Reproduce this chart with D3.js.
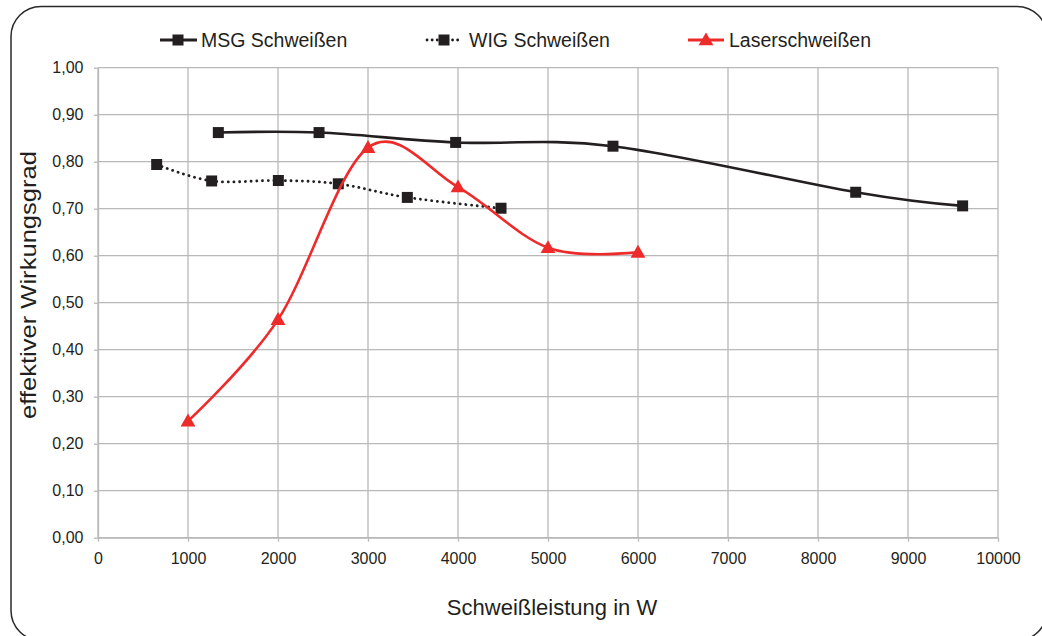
<!DOCTYPE html>
<html>
<head>
<meta charset="utf-8">
<script src="https://cdn.jsdelivr.net/npm/d3@7"></script>
<style>
  html, body { margin: 0; padding: 0; background: #fff; }
  svg { display: block; font-family: "Liberation Sans", Arial, sans-serif; }
</style>
</head>
<body>
<svg id="chart" width="1042" height="636"></svg>
<script>
// ---- data ----
const seriesNames = ["MSG Schweißen", "WIG Schweißen", "Laserschweißen"];
const msgX = [1337, 2456, 3974, 5722, 8419, 9607];
const msgY = [0.862, 0.862, 0.841, 0.833, 0.735, 0.706];
const wigX = [652, 1263, 2004, 2670, 3437, 4478];
const wigY = [0.794, 0.759, 0.760, 0.753, 0.724, 0.701];
const laserX = [1000, 2000, 3000, 4000, 5000, 6000];
const laserY = [0.248, 0.464, 0.830, 0.746, 0.617, 0.607];
const xTicks = [0, 1000, 2000, 3000, 4000, 5000, 6000, 7000, 8000, 9000, 10000];
const yTicks = [0, 0.1, 0.2, 0.3, 0.4, 0.5, 0.6, 0.7, 0.8, 0.9, 1.0];
const xTitle = "Schweißleistung in W";
const yTitle = "effektiver Wirkungsgrad";

// ---- layout ----
const svg = d3.select("#chart");
const pL = 98, pR = 998, pT = 67.7, pB = 537.7;
const ink = "#231f20", red = "#ee2b2b", grid = "#b9b9b9";

const x = d3.scaleLinear().domain([0, 10000]).range([pL, pR]);
const y = d3.scaleLinear().domain([0, 1]).range([pB, pT]);

// outer rounded frame
svg.append("rect")
  .attr("x", 11).attr("y", 6.5).attr("width", 1036).attr("height", 634)
  .attr("rx", 30).attr("ry", 30)
  .attr("fill", "none").attr("stroke", "#2a2a2a").attr("stroke-width", 1.5);

// gridlines
const g = svg.append("g");
g.selectAll(".hg").data(yTicks).join("line")
  .attr("x1", pL).attr("x2", pR)
  .attr("y1", d => y(d)).attr("y2", d => y(d))
  .attr("stroke", grid).attr("stroke-width", 1.3);
g.selectAll(".vg").data(xTicks).join("line")
  .attr("y1", pT).attr("y2", pB)
  .attr("x1", d => x(d)).attr("x2", d => x(d))
  .attr("stroke", grid).attr("stroke-width", 1.3);

// axes
const fmtY = d => d3.format(".2f")(d).replace(".", ",");
const xAxis = d3.axisBottom(x).tickValues(xTicks).tickFormat(d3.format("d"))
  .tickSizeInner(4).tickSizeOuter(0).tickPadding(11);
const yAxis = d3.axisLeft(y).tickValues(yTicks).tickFormat(fmtY)
  .tickSizeInner(4).tickSizeOuter(0).tickPadding(10.5);

const gx = svg.append("g").attr("transform", `translate(0,${pB})`).call(xAxis);
const gy = svg.append("g").attr("transform", `translate(${pL},0)`).call(yAxis);
[gx, gy].forEach(a => {
  a.select(".domain").attr("stroke", grid).attr("stroke-width", 1.3);
  a.selectAll(".tick line").attr("stroke", grid).attr("stroke-width", 1.3);
  a.selectAll(".tick text").attr("fill", ink)
    .style("font-family", '"Liberation Sans", Arial, sans-serif')
    .style("font-size", "16px");
});

// titles
svg.append("text")
  .attr("x", x(5000) + 4).attr("y", 615)
  .attr("text-anchor", "middle").attr("fill", ink)
  .style("font-size", "22px").text(xTitle);
svg.append("text")
  .attr("transform", "translate(36,285) rotate(-90)")
  .attr("text-anchor", "middle").attr("fill", ink)
  .style("font-size", "22px")
  .attr("textLength", 268).attr("lengthAdjust", "spacingAndGlyphs")
  .text(yTitle);

// series
const line = d3.line().x(d => x(d[0])).y(d => y(d[1])).curve(d3.curveCardinal.tension(0));
const zip = (a, b) => a.map((v, i) => [v, b[i]]);
const sq = d3.symbol().type(d3.symbolSquare).size(121);
const tri = d3.symbol().type(d3.symbolTriangle).size(95);

const series = [
  { name: seriesNames[0], pts: zip(msgX, msgY), color: ink, dash: null, width: 2.6, sym: sq },
  { name: seriesNames[1], pts: zip(wigX, wigY), color: ink, dash: "0.1 5.6", width: 2.8, sym: sq },
  { name: seriesNames[2], pts: zip(laserX, laserY), color: red, dash: null, width: 2.6, sym: tri }
];

series.forEach(s => {
  const gs = svg.append("g");
  gs.append("path").attr("d", line(s.pts))
    .attr("fill", "none").attr("stroke", s.color).attr("stroke-width", s.width)
    .attr("stroke-linecap", s.dash ? "round" : "butt")
    .attr("stroke-dasharray", s.dash);
  gs.selectAll("path.m").data(s.pts).join("path").attr("class", "m")
    .attr("d", s.sym)
    .attr("transform", d => `translate(${x(d[0])},${y(d[1]) + (s.sym === tri ? 1 : 0)})`)
    .attr("fill", s.color);
});

// legend
const legendItems = [
  { s: series[0], x1: 160, x2: 197, mx: 178, tx: 201 },
  { s: series[1], x1: 427, x2: 462, mx: 444, tx: 469 },
  { s: series[2], x1: 688, x2: 724, mx: 706, tx: 729 }
];
const ly = 40;
legendItems.forEach(it => {
  const lg = svg.append("g");
  lg.append("line").attr("x1", it.x1).attr("x2", it.x2).attr("y1", ly).attr("y2", ly)
    .attr("stroke", it.s.color).attr("stroke-width", it.s.dash ? 2.8 : 3)
    .attr("stroke-linecap", it.s.dash ? "round" : "butt")
    .attr("stroke-dasharray", it.s.dash ? "0.1 5" : null);
  lg.append("path").attr("d", it.s.sym)
    .attr("transform", `translate(${it.mx},${ly + (it.s.sym === tri ? 1 : 0)})`)
    .attr("fill", it.s.color);
  lg.append("text").attr("x", it.tx).attr("y", 46.5).attr("fill", ink)
    .style("font-size", "19.5px").text(it.s.name);
});
</script>
</body>
</html>
